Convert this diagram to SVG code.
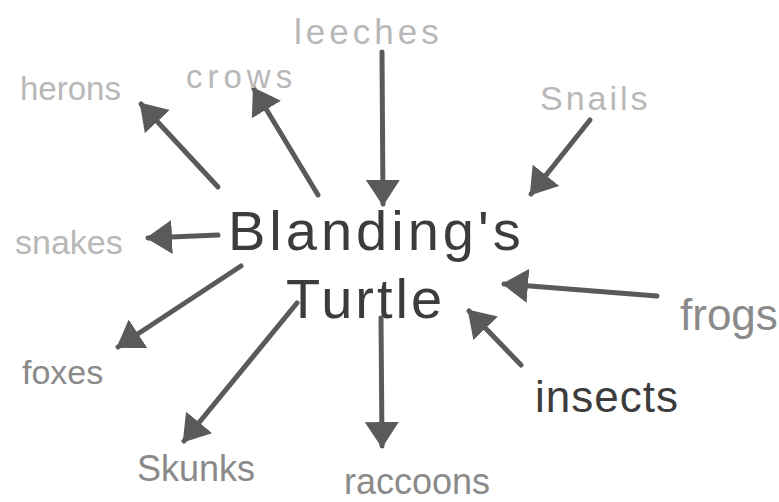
<svg xmlns="http://www.w3.org/2000/svg" width="779" height="502" viewBox="0 0 779 502">
<style>
.lbl{font-family:"Liberation Sans","DejaVu Sans",sans-serif;font-weight:normal}
.faint{fill:#b8b8b8}
.mid{fill:#8a8a8a}
.dark{fill:#3c3c3c}
.arr{stroke:#5a5a5a;stroke-width:5;stroke-linecap:round;fill:none;marker-end:url(#ah)}
</style>
<defs>
<marker id="ah" markerUnits="userSpaceOnUse" viewBox="0 0 26 34" markerWidth="26" markerHeight="34" refX="24" refY="17" orient="auto">
<path d="M0,0 L26,17 L0,34 Z" fill="#5a5a5a"/>
</marker>
</defs>
<rect width="779" height="502" fill="#ffffff"/>
<g id="connectors">
<line class="arr" x1="218" y1="187" x2="141" y2="104"/>
<line class="arr" x1="318" y1="195" x2="254" y2="89"/>
<line class="arr" x1="382" y1="52" x2="383" y2="204"/>
<line class="arr" x1="590" y1="120" x2="531" y2="194"/>
<line class="arr" x1="218" y1="235" x2="148" y2="238"/>
<line class="arr" x1="241" y1="266" x2="118" y2="347"/>
<line class="arr" x1="297" y1="303" x2="184" y2="441"/>
<line class="arr" x1="381" y1="318" x2="382" y2="446"/>
<line class="arr" x1="657" y1="296" x2="504" y2="284"/>
<line class="arr" x1="521" y1="365" x2="469" y2="311"/>
</g>
<g id="turtle"><text class="lbl dark" x="228" y="250" font-size="56" letter-spacing="4">Blanding's</text><text class="lbl dark" x="286" y="318" font-size="56" letter-spacing="3">Turtle</text></g>
<g id="leeches"><text class="lbl faint" x="294" y="44" font-size="35" letter-spacing="4">leeches</text></g>
<g id="herons"><text class="lbl faint" x="20" y="100" font-size="33">herons</text></g>
<g id="crows"><text class="lbl faint" x="186" y="88" font-size="33" letter-spacing="5">crows</text></g>
<g id="snails"><text class="lbl faint" x="540" y="110" font-size="34" letter-spacing="3">Snails</text></g>
<g id="snakes"><text class="lbl faint" x="15" y="254" font-size="34">snakes</text></g>
<g id="frogs"><text class="lbl mid" x="680" y="330" font-size="44">frogs</text></g>
<g id="foxes"><text class="lbl mid" x="22" y="384" font-size="34">foxes</text></g>
<g id="insects"><text class="lbl dark" x="535" y="412" font-size="44" letter-spacing="1">insects</text></g>
<g id="skunks"><text class="lbl mid" x="137" y="481" font-size="36">Skunks</text></g>
<g id="raccoons"><text class="lbl mid" x="344" y="494" font-size="36">raccoons</text></g>
</svg>
